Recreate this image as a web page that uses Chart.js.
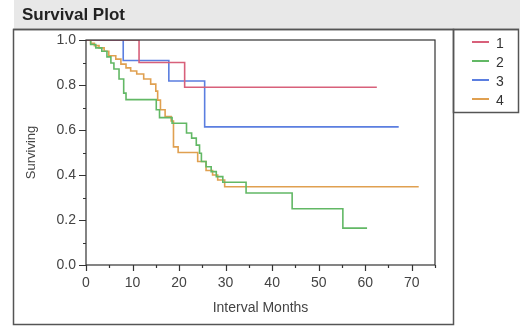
<!DOCTYPE html>
<html>

<head>
    <title>Survival Plot</title>
    <script src="https://cdn.jsdelivr.net/npm/chart.js"></script>
    <style>
        body {
            margin: 0;
            background: white;
        }

        #survivalChart {
            display: block;
        }
    </style>
</head>

<body>
    <canvas id="survivalChart" width="520" height="328"></canvas>

    <script>
        // Kaplan-Meier steps: month of each drop and the surviving fraction after it
        const groupNames = ['1', '2', '3', '4'];
        const groupColors = ['#d8607a', '#62b865', '#5b7ee0', '#e0a050'];

        const group1Months = [0, 11.4, 21.2, 62.5];
        const group1Surv = [1, 0.9, 0.79, 0.79];

        const group2Months = [0, 1.0, 2.1, 3.4, 4.5, 5.35, 6.0, 7.1, 8.1, 8.6, 15.1, 15.8, 18.5, 21.6, 22.7, 23.7, 24.4, 24.8, 25.8, 26.9, 28.0, 29.4, 34.4, 44.3, 55.2, 60.4];
        const group2Surv = [1, 0.98, 0.965, 0.95, 0.925, 0.898, 0.871, 0.827, 0.764, 0.735, 0.69, 0.655, 0.63, 0.587, 0.564, 0.533, 0.497, 0.46, 0.437, 0.415, 0.393, 0.368, 0.32, 0.25, 0.164, 0.164];

        const group3Months = [0, 8.0, 17.8, 25.5, 67.2];
        const group3Surv = [1, 0.909, 0.818, 0.614, 0.614];

        const group4Months = [0, 1.0, 1.8, 2.8, 3.9, 4.9, 6.4, 7.5, 8.6, 9.6, 10.9, 12.4, 13.9, 15.0, 15.4, 16.0, 17.0, 18.3, 18.8, 19.8, 24.0, 25.8, 27.2, 28.3, 29.8, 71.5];
        const group4Surv = [1, 0.985, 0.975, 0.965, 0.95, 0.93, 0.915, 0.893, 0.876, 0.862, 0.849, 0.827, 0.804, 0.773, 0.733, 0.69, 0.66, 0.64, 0.525, 0.5, 0.46, 0.42, 0.4, 0.378, 0.348, 0.348];

        const allMonths = [group1Months, group2Months, group3Months, group4Months];
        const allSurv = [group1Surv, group2Surv, group3Surv, group4Surv];

        const fontFamily = '"Liberation Sans", Arial, sans-serif';

        function toPoints(months, surv) {
            return months.map((m, i) => ({ x: m, y: surv[i] }));
        }

        const datasets = groupNames.map((name, i) => ({
            label: name,
            data: toPoints(allMonths[i], allSurv[i]),
            borderColor: groupColors[i],
            borderWidth: 1.6,
            stepped: true,
            pointRadius: 0,
            fill: false
        }));

        // Frames, title bar, tick marks and legend box like the JMP report
        const reportFrame = {
            id: 'reportFrame',
            beforeDraw(chart) {
                const ctx = chart.ctx;
                ctx.save();
                ctx.fillStyle = 'white';
                ctx.fillRect(0, 0, chart.width, chart.height);

                // title bar
                ctx.fillStyle = '#e8e8e8';
                ctx.fillRect(14, 0, 506, 29);
                ctx.fillStyle = '#222';
                ctx.font = 'bold 17px ' + fontFamily;
                ctx.textBaseline = 'middle';
                ctx.fillText('Survival Plot', 22, 15);

                // outer frame and legend box
                ctx.strokeStyle = '#555';
                ctx.lineWidth = 1.5;
                ctx.beginPath();
                ctx.moveTo(13, 29.5);
                ctx.lineTo(519, 29.5);
                ctx.stroke();
                ctx.strokeRect(13.5, 29.5, 440, 295);
                ctx.strokeRect(453.5, 29.5, 65, 83);
                ctx.restore();
            },
            afterDraw(chart) {
                const ctx = chart.ctx;
                const area = chart.chartArea;
                const xScale = chart.scales.x;
                const yScale = chart.scales.y;
                ctx.save();
                ctx.strokeStyle = '#333';
                ctx.lineWidth = 1.2;
                ctx.strokeRect(area.left, area.top, area.right - area.left, area.bottom - area.top);

                ctx.lineWidth = 1.2;
                ctx.beginPath();
                xScale.ticks.forEach(t => {
                    const px = Math.round(xScale.getPixelForValue(t.value)) + 0.5;
                    const len = t.value % 10 === 0 ? 6 : 3;
                    ctx.moveTo(px, area.bottom);
                    ctx.lineTo(px, area.bottom + len);
                });
                yScale.ticks.forEach(t => {
                    const py = Math.round(yScale.getPixelForValue(t.value)) + 0.5;
                    const len = Math.round(t.value * 10) % 2 === 0 ? 7 : 3;
                    ctx.moveTo(area.left, py);
                    ctx.lineTo(area.left - len, py);
                });
                ctx.stroke();

                // legend entries
                ctx.font = '14px ' + fontFamily;
                ctx.textBaseline = 'middle';
                chart.data.datasets.forEach((ds, i) => {
                    const y = 42 + i * 19;
                    ctx.strokeStyle = ds.borderColor;
                    ctx.lineWidth = 2;
                    ctx.beginPath();
                    ctx.moveTo(472, y);
                    ctx.lineTo(489, y);
                    ctx.stroke();
                    ctx.fillStyle = '#333';
                    ctx.fillText(ds.label, 496, y + 2);
                });
                ctx.restore();
            }
        };

        const survivalChart = new Chart(document.getElementById('survivalChart').getContext('2d'), {
            type: 'line',
            data: { datasets: datasets },
            options: {
                responsive: false,
                animation: false,
                devicePixelRatio: 1,
                layout: {
                    padding: { left: 20, top: 40, right: 85, bottom: 8 }
                },
                plugins: {
                    legend: { display: false },
                    tooltip: { enabled: false }
                },
                scales: {
                    x: {
                        type: 'linear',
                        min: 0,
                        max: 75,
                        afterFit: (scale) => { scale.height = 55; },
                        border: { display: false },
                        grid: { drawOnChartArea: false, drawTicks: false },
                        ticks: {
                            stepSize: 5,
                            autoSkip: false,
                            maxRotation: 0,
                            padding: 10,
                            color: '#444',
                            font: { family: fontFamily, size: 14 },
                            callback: (v) => v % 10 === 0 ? String(v) : ''
                        },
                        title: {
                            display: true,
                            text: 'Interval Months',
                            color: '#444',
                            font: { family: fontFamily, size: 14 },
                            padding: { top: 4, bottom: 3 }
                        }
                    },
                    y: {
                        min: 0,
                        max: 1,
                        afterFit: (scale) => { scale.width = 66; },
                        border: { display: false },
                        grid: { drawOnChartArea: false, drawTicks: false },
                        ticks: {
                            stepSize: 0.1,
                            autoSkip: false,
                            padding: 10,
                            color: '#444',
                            font: { family: fontFamily, size: 14 },
                            callback: (v) => Math.round(v * 10) % 2 === 0 ? v.toFixed(1) : ''
                        },
                        title: {
                            display: true,
                            text: 'Surviving',
                            color: '#444',
                            font: { family: fontFamily, size: 13 }
                        }
                    }
                }
            },
            plugins: [reportFrame]
        });
    </script>
</body>

</html>
